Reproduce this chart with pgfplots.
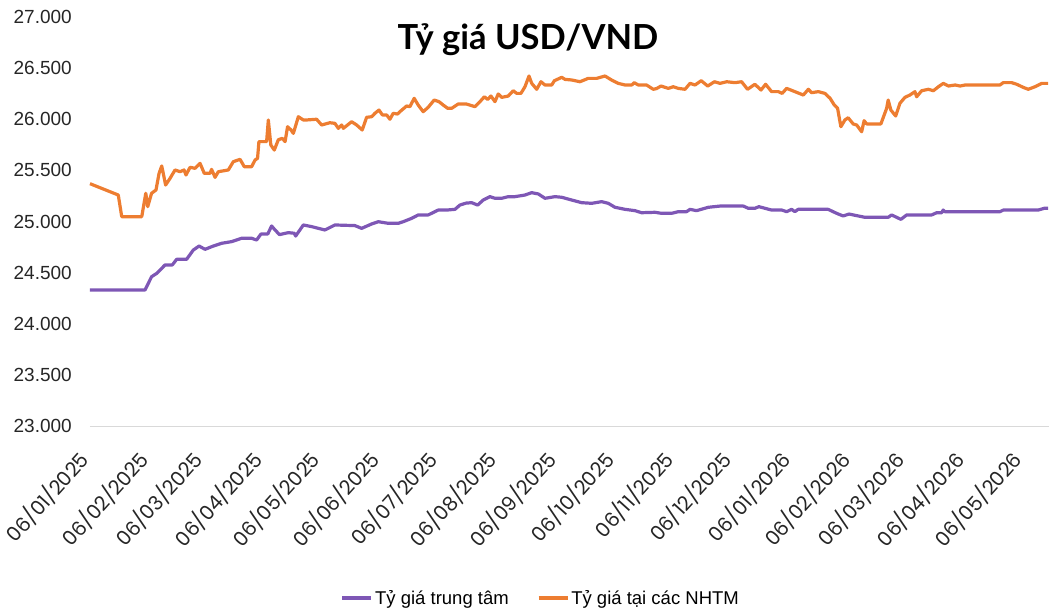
\documentclass[border=0pt]{standalone}
\usepackage{pgfplots}
\pgfplotsset{compat=1.18}
\usepackage{graphicx}
\usepackage{fontspec}
\setmainfont{Liberation Sans}
\newfontfamily\datefont{Poppins}
\newfontfamily\titlefont{Lato}
\definecolor{tttam}{RGB}{126,87,181}
\definecolor{nhtm}{RGB}{237,125,49}
\newcommand\dl[1]{\rotatebox{48}{#1}}

% x = days since 06/01/2025
\pgfplotstableread{
d v
0 24330
28.6 24330
32 24460
34.7 24493
39 24575
42.8 24575
45 24630
50.2 24630
53.7 24721
56.7 24760
59.8 24728
64.1 24760
68.4 24787
73.6 24803
78.8 24836
84 24836
86.6 24819
88.9 24878
92.4 24878
94.4 24956
96.2 24917
98.5 24872
103.1 24891
106.2 24885
106.9 24858
110.9 24966
115.2 24950
122.1 24917
127.3 24966
137.7 24960
141.2 24933
146.4 24976
149.9 24998
155.1 24982
160.2 24982
162.8 24998
167.2 25031
170.6 25064
175.8 25064
181 25112
185.4 25112
189.7 25119
192.3 25161
195.5 25180
198.4 25184
201.5 25161
204.4 25210
207.9 25243
210.5 25227
214 25227
217.4 25243
220.9 25243
226.1 25259
229.6 25282
233.1 25269
236.5 25227
241.7 25243
245.2 25237
250.4 25210
255.6 25184
260.8 25178
266 25194
269.4 25178
272.9 25139
278.1 25119
283.3 25106
286.7 25086
293.7 25090
297.1 25080
302.3 25080
305.8 25096
310.1 25096
311.9 25119
315.3 25106
321.4 25139
327.5 25151
339.6 25151
342.2 25129
345.6 25129
347.7 25145
350.9 25129
354.3 25112
359.6 25112
362.1 25096
364.7 25119
366.4 25096
368.1 25119
383.7 25119
388.1 25080
391.5 25054
394.5 25073
402.8 25041
414.9 25041
416.7 25064
421.5 25021
424.5 25064
437.5 25064
440.1 25086
442.7 25086
443.5 25112
444.4 25096
473 25096
474.7 25112
492.9 25112
496 25129
498.1 25129
}\trungtam

\pgfplotstableread{
d v
0 25370
14.7 25259
16.5 25047
26.9 25047
29 25276
30 25145
32 25276
34.3 25308
35.9 25471
37.3 25543
39.3 25357
41.6 25422
44.2 25504
46.8 25487
48.9 25504
49.9 25455
52 25530
54.6 25520
57.2 25569
59.4 25471
62.4 25471
63.2 25510
65 25432
66.7 25487
71.9 25504
74.5 25585
78 25608
80.2 25536
84 25536
85.8 25601
87.1 25618
87.8 25781
91.8 25781
92.7 25993
94 25748
95.8 25699
97.9 25800
100 25813
101.4 25781
102.7 25927
104.5 25895
105.7 25862
108.3 26025
110.9 25993
112.6 25993
117.8 26000
120.4 25944
124.7 25966
127.3 25960
129.1 25911
130.8 25944
131.7 25911
136 25976
138.6 25944
141.5 25895
143.8 26019
146.4 26025
148.1 26058
150.2 26090
152 26042
154.2 26042
155.9 26000
157.6 26058
159.9 26051
161.1 26074
164.6 26130
166.3 26123
168.5 26205
170.6 26139
173.2 26074
175.8 26117
178.9 26188
181.4 26172
183.6 26139
185.9 26107
188 26107
191.4 26149
195.5 26150
200.1 26123
202.7 26172
205 26220
206.7 26194
208.4 26227
210.5 26172
212.2 26247
214 26214
217.4 26227
220 26279
221.8 26253
224 26253
226.1 26318
228.2 26423
229.6 26351
232.2 26293
234.4 26367
236.5 26335
240 26335
241.4 26377
245.2 26410
246.9 26390
250.4 26384
254.7 26367
259 26400
263.4 26400
267.7 26423
271.1 26384
274.6 26351
278.1 26335
281.6 26335
282.9 26358
285 26335
289.3 26335
292.8 26293
294.5 26300
296.8 26325
300.6 26302
303.2 26318
305.8 26302
309.3 26293
311.9 26351
314.5 26335
317.7 26377
321.1 26325
324.6 26367
327.5 26351
331 26367
335.3 26358
338.7 26367
341.8 26293
345.6 26342
348.8 26286
351.2 26342
354.3 26270
357.8 26270
359.8 26253
362.1 26302
366.4 26270
370.8 26237
373.4 26293
375.1 26260
378.6 26270
382 26253
384.7 26205
386.9 26139
388.6 26107
390.3 25927
392.4 25993
394.1 26015
396.7 25954
398.5 25944
401.1 25878
402.4 25986
403.7 25954
411.1 25954
414.1 26107
414.9 26188
416.3 26090
418.8 26032
421 26156
423.6 26214
426.2 26237
428.8 26270
429.7 26220
432.3 26279
435.8 26293
438.4 26279
441 26318
443.6 26351
446.2 26325
449.7 26335
452.3 26325
454.9 26335
473 26335
474.7 26358
479.1 26358
481.7 26342
485.1 26312
487.7 26293
491.2 26318
494.7 26351
498.1 26351
}\nhtmtable

\begin{document}
\begin{tikzpicture}[x=1pt,y=1pt]
\begin{axis}[
    scale only axis, width=959pt, height=409pt,
    xmin=0, xmax=498.5,
    ymin=23000, ymax=27000,
    xtick={0,31,59,90,120,151,181,212,243,273,304,334,365,396,424,455,485},
    xticklabels={\dl{06/01/2025},\dl{06/02/2025},\dl{06/03/2025},\dl{06/04/2025},
        \dl{06/05/2025},\dl{06/06/2025},\dl{06/07/2025},\dl{06/08/2025},
        \dl{06/09/2025},\dl{06/10/2025},\dl{06/11/2025},\dl{06/12/2025},
        \dl{06/01/2026},\dl{06/02/2026},\dl{06/03/2026},\dl{06/04/2026},
        \dl{06/05/2026}},
    ytick={23000,23500,...,27000},
    scaled y ticks=false,
    /pgf/number format/1000 sep={.},
    /pgf/number format/assume math mode=true,
    axis x line*=bottom, axis y line*=left,
    x axis line style={draw=black!15, line width=1pt},
    y axis line style={draw=none},
    major tick length=0pt,
    yticklabel style={font=\fontsize{19}{19}\selectfont, text=black!85,
        anchor=east, inner sep=0pt, xshift=-18pt},
    xticklabel style={font=\datefont\fontsize{20}{20}\selectfont, text=black!85,
        anchor=north east, inner sep=0pt, xshift=3pt, yshift=-22pt},
    clip=false,
    legend columns=2,
    legend style={at={(axis description cs:0.47,-0.42)}, anchor=center,
        draw=none, fill=none, font=\fontsize{18.5}{18.5}\selectfont,
        /tikz/every even column/.append style={column sep=26pt},
        inner sep=0pt},
    legend image code/.code={\draw[#1, line width=3.5pt] (0pt,0pt) -- (29pt,0pt);},
]
\addplot[color=tttam, line width=3.2pt, line join=round, no markers] table[x=d, y=v] {\trungtam};
\addlegendentry{Tỷ giá trung tâm}
\addplot[color=nhtm, line width=3.2pt, line join=round, no markers] table[x=d, y=v] {\nhtmtable};
\addlegendentry{Tỷ giá tại các NHTM}
\coordinate (O) at (rel axis cs:0,0);
\end{axis}
\pgfresetboundingbox
\path[use as bounding box] ([shift={(-90pt,-185pt)}]O) rectangle ++(1049pt,611pt);
\node[font=\titlefont\bfseries\fontsize{34.5}{34.5}\selectfont, anchor=base]
    at ([shift={(438pt,376pt)}]O) {Tỷ giá USD/VND};
\end{tikzpicture}
\end{document}
